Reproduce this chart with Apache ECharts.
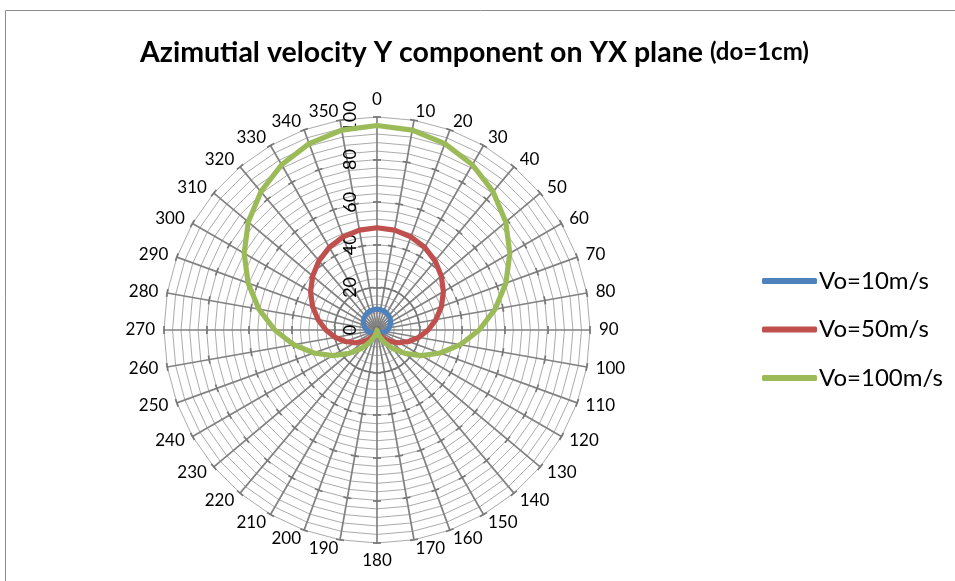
<!DOCTYPE html>
<html>
<head>
<meta charset="utf-8">
<script src="https://cdn.jsdelivr.net/npm/echarts@6/dist/echarts.min.js"></script>
<style>
  html, body { margin: 0; padding: 0; background: #ffffff; }
  #chart { width: 955px; height: 581px; }
</style>
</head>
<body>
<div id="chart"></div>
<script>
// Angular categories (degrees), clockwise from the top
const angleLabels = ['0', '10', '20', '30', '40', '50', '60', '70', '80', '90', '100', '110',
  '120', '130', '140', '150', '160', '170', '180', '190', '200', '210', '220', '230',
  '240', '250', '260', '270', '280', '290', '300', '310', '320', '330', '340', '350'];

// Radial scale
const radialMin = 0;
const radialMax = 100;
const radialMajorSteps = 5;   // labelled every 20
const radialMinorSteps = 25;  // ring every 4

const seriesNames = ['Vo=10m/s', 'Vo=50m/s', 'Vo=100m/s'];
const seriesColors = ['#4F81BD', '#C0504D', '#9BBB59'];

// Azimuthal velocity Y component, one value per angle above
const vo10 = [9.8, 9.7, 9.5, 9.2, 8.7, 8.1, 7.4, 6.6, 5.7, 4.9, 4.1, 3.3,
  2.5, 1.8, 1.2, 0.7, 0.3, 0.1, 0, 0.1, 0.3, 0.7, 1.2, 1.8,
  2.5, 3.3, 4.1, 4.9, 5.7, 6.6, 7.4, 8.1, 8.7, 9.2, 9.5, 9.7];
const vo50 = [48, 47.6, 46.5, 44.8, 42.4, 39.4, 36, 32.2, 28.1, 24, 19.9, 15.8,
  12, 8.6, 5.6, 3.2, 1.4, 0.4, 0, 0.4, 1.4, 3.2, 5.6, 8.6,
  12, 15.8, 19.9, 24, 28.1, 32.2, 36, 39.4, 42.4, 44.8, 46.5, 47.6];
const vo100 = [96, 95.3, 93.1, 89.6, 84.8, 78.9, 72, 64.4, 56.3, 48, 39.7, 31.6,
  24, 17.1, 11.2, 6.4, 2.9, 0.7, 0, 0.7, 2.9, 6.4, 11.2, 17.1,
  24, 31.6, 39.7, 48, 56.3, 64.4, 72, 78.9, 84.8, 89.6, 93.1, 95.3];
const seriesValues = [vo10, vo50, vo100];

// Radar axes run counter-clockwise; reorder so the angles read clockwise.
function clockwise(arr) {
  return [arr[0]].concat(arr.slice(1).reverse());
}

const FONT = 'Lato, "Open Sans", "Liberation Sans", sans-serif';
const CENTER = [377, 330];
const RADIUS = 213;

const orderedNames = clockwise(angleLabels);

const gridRadar = {
  center: CENTER,
  radius: RADIUS,
  startAngle: 90,
  shape: 'polygon',
  splitNumber: radialMinorSteps,
  indicator: orderedNames.map(n => ({ name: n, min: radialMin, max: radialMax })),
  axisName: { color: '#000000', fontSize: 17, fontFamily: FONT },
  nameGap: 9,
  splitLine: { lineStyle: { color: '#ababab', width: 1 } },
  splitArea: { show: false },
  axisLine: { lineStyle: { color: '#828282', width: 1.7 } },
  axisTick: { show: false },
  axisLabel: { show: false }
};

function tickRadar(tickLen, withLabels) {
  return {
    center: CENTER,
    radius: RADIUS,
    startAngle: 90,
    shape: 'polygon',
    splitNumber: radialMajorSteps,
    indicator: orderedNames.map((n, i) => {
      const ind = { name: '', min: radialMin, max: radialMax };
      if (withLabels && i === 0) {
        ind.axisLabel = { show: true };
      }
      return ind;
    }),
    axisName: { show: false },
    splitLine: { show: false },
    splitArea: { show: false },
    axisLine: { show: false },
    axisTick: { show: true, length: tickLen, lineStyle: { color: '#777777', width: 1.7 } },
    axisLabel: {
      show: false, rotate: 90, margin: 18, fontSize: 18, color: '#000000',
      fontFamily: FONT, showMinLabel: true, showMaxLabel: true
    }
  };
}

const chart = echarts.init(document.getElementById('chart'), null, { renderer: 'canvas' });

chart.setOption({
  backgroundColor: '#ffffff',
  animation: false,
  title: {
    text: 'Azimutial velocity Y component on YX plane {s|(do=1cm)}',
    left: 135,
    top: 33,
    textStyle: {
      fontFamily: FONT, fontWeight: 'bold', fontSize: 28.5, color: '#000000',
      rich: { s: { fontFamily: FONT, fontWeight: 'bold', fontSize: 24, color: '#000000' } }
    }
  },
  legend: {
    orient: 'vertical',
    left: 757,
    top: 264,
    itemWidth: 55,
    itemHeight: 6,
    itemGap: 24.5,
    icon: 'roundRect',
    textStyle: { fontFamily: FONT, fontSize: 24, color: '#000000', padding: [0, 0, 0, -3] },
    data: seriesNames
  },
  radar: [gridRadar, tickRadar(4, true), tickRadar(-4, false)],
  series: seriesNames.map((name, i) => ({
    type: 'radar',
    radarIndex: 0,
    name: name,
    symbol: 'none',
    color: seriesColors[i],
    lineStyle: { width: 5.2, color: seriesColors[i], cap: 'round', join: 'round' },
    itemStyle: { color: seriesColors[i] },
    data: [{ name: name, value: clockwise(seriesValues[i]) }]
  })),
  graphic: [{
    type: 'rect',
    shape: { x: 5.5, y: 10.5, width: 1000, height: 1000 },
    style: { fill: null, stroke: '#8c8c8c', lineWidth: 1 },
    silent: true,
    z: -10
  }]
});
</script>
</body>
</html>
